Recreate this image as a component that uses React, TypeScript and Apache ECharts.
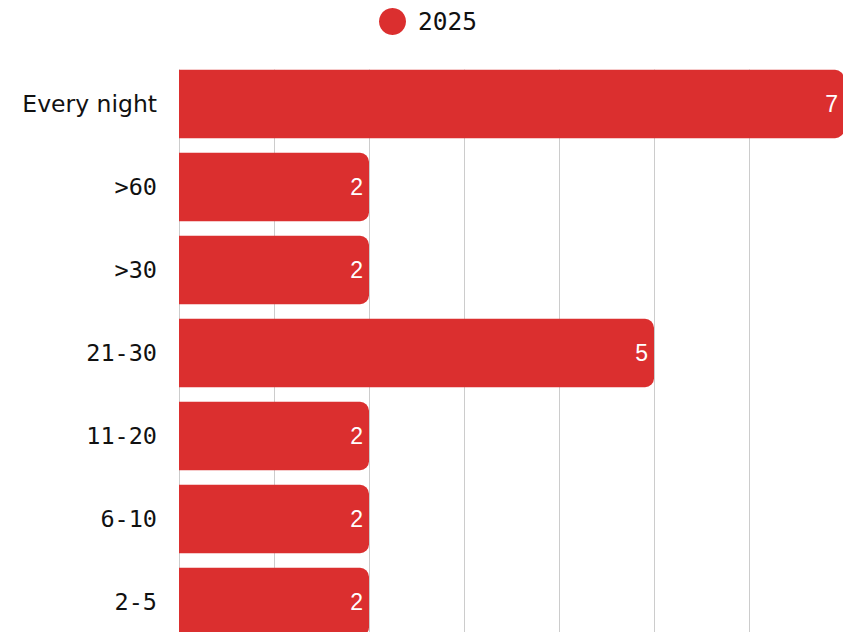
import React, { useEffect, useRef } from "react";
import * as echarts from "echarts";

const categories = ["Every night", ">60", ">30", "21-30", "11-20", "6-10", "2-5"];
const values2025 = [7, 2, 2, 5, 2, 2, 2];
const seriesName = "2025";

export default function App() {
  const ref = useRef<HTMLDivElement>(null);
  useEffect(() => {
    if (!ref.current) return;
    const chart = echarts.init(ref.current, null, { renderer: "svg" });
    chart.setOption({
      animation: false,
      legend: {
        top: 3,
        left: 374,
        icon: "circle",
        itemWidth: 27,
        itemHeight: 27,
        textStyle: {
          fontFamily: "DejaVu Sans Mono",
          fontSize: 24.5,
          color: "#111",
          padding: [0, 0, 0, 7],
        },
        data: [seriesName],
      },
      graphic: [
        { type: "rect", z: 1, shape: { x: 170, y: 55, width: 700, height: 14.5 }, style: { fill: "#ffffff" } },
      ],
      grid: { left: 179, right: 0, top: 62.5, height: 581 },
      xAxis: {
        type: "value",
        min: 0,
        max: 7,
        interval: 1,
        axisLabel: { show: false },
        axisLine: { show: false },
        axisTick: { show: false },
        splitLine: { lineStyle: { color: "#cccccc", width: 1 } },
      },
      yAxis: {
        type: "category",
        inverse: true,
        data: categories,
        axisLine: { show: false },
        axisTick: { show: false },
        axisLabel: {
          margin: 22,
          formatter: (v: string) => (/[a-z]/i.test(v) ? `{p|${v}}` : `{m|${v}}`),
          rich: {
            p: { fontFamily: "DejaVu Sans", fontSize: 23.5, color: "#111" },
            m: { fontFamily: "DejaVu Sans Mono", fontSize: 23.5, color: "#111" },
          },
        },
      },
      series: [
        {
          name: seriesName,
          type: "bar",
          z: 2,
          data: values2025,
          barCategoryGap: "17.5%",
          itemStyle: { color: "#DB2F2F", borderRadius: [0, 9, 9, 0] },
          label: {
            show: true,
            position: "insideRight",
            distance: 6,
            color: "#ffffff",
            fontFamily: "Liberation Sans",
            fontSize: 23,
          },
        },
      ],
    });
    return () => chart.dispose();
  }, []);
  return (
    <div style={{ position: "fixed", left: 0, top: 0, width: 843, height: 632, overflow: "hidden", background: "#fff" }}>
      <div ref={ref} style={{ width: 844, height: 700 }} />
    </div>
  );
}
